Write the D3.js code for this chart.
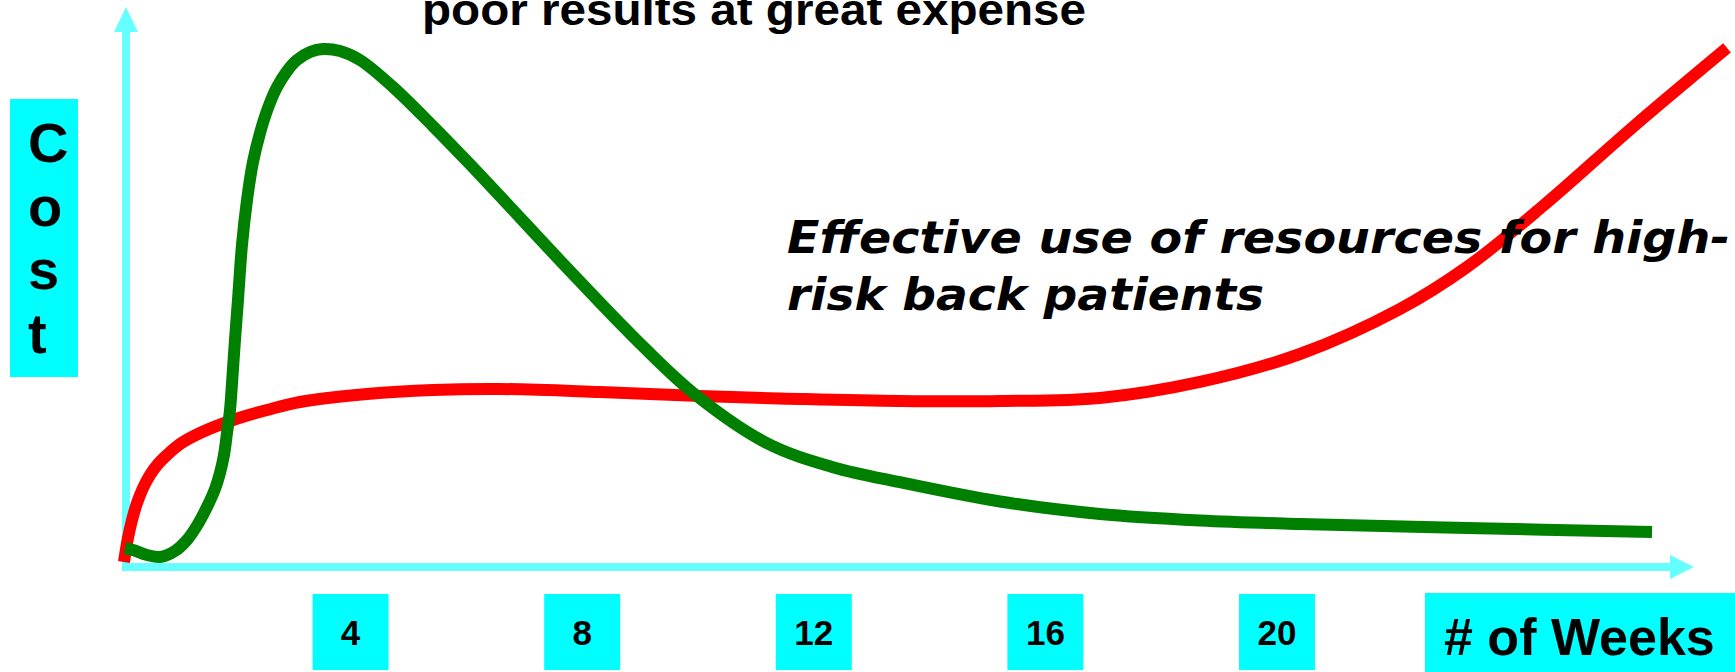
<!DOCTYPE html>
<html>
<head>
<meta charset="utf-8">
<script src="https://cdn.jsdelivr.net/npm/d3@7/dist/d3.min.js"></script>
<style>
  html, body { margin: 0; padding: 0; background: #ffffff; overflow: hidden; }
  svg { display: block; }
</style>
</head>
<body>
<svg id="chart" width="1735" height="672"></svg>
<script>
// ---- data ----
const weekTicks = [4, 8, 12, 16, 20];
const xAxisTitle = "# of Weeks";
const yAxisTitle = ["C", "o", "s", "t"];
const titleText = "poor results at great expense";
const noteLines = ["Effective use of resources for high-", "risk back patients"];

// traditional care (green): week, cost
const greenWeeks = [0.104, 0.242, 0.484, 0.708, 0.967, 1.174, 1.364, 1.520, 1.658, 1.744, 1.813, 1.865, 1.917, 1.952, 2.003, 2.055, 2.124, 2.211, 2.314, 2.435, 2.573, 2.729, 2.902, 3.074, 3.299, 3.523, 3.817, 4.162, 4.732, 5.423, 6.010, 6.580, 7.737, 8.877, 9.914, 11.192, 12.332, 13.489, 15.216, 16.943, 18.670, 20.397, 23.282, 26.477];
const greenCost  = [3.65, 3.27, 2.31, 1.92, 3.08, 5.19, 8.27, 11.54, 15.0, 18.08, 21.54, 25.77, 30.19, 35.38, 43.65, 51.35, 61.92, 70.58, 77.88, 83.46, 88.27, 92.31, 95.38, 97.5, 99.04, 99.62, 99.23, 97.5, 92.31, 84.77, 78.04, 71.31, 57.52, 44.33, 33.48, 23.8, 19.2, 16.3, 12.6, 10.19, 8.94, 8.27, 7.5, 6.73];

// high-risk targeted care (red): week, cost
const redWeeks = [0.086, 0.155, 0.225, 0.311, 0.415, 0.535, 0.674, 0.829, 1.054, 1.399, 1.969, 2.556, 3.126, 4.283, 5.423, 6.580, 8.307, 10.035, 11.762, 13.489, 15.216, 16.943, 18.670, 20.397, 22.124, 23.282, 24.594, 26.149, 27.772];
const redCost  = [0.96, 5.58, 9.04, 12.31, 15.19, 17.69, 19.81, 21.54, 23.65, 25.77, 28.27, 30.19, 31.73, 33.27, 34.04, 34.23, 33.65, 32.88, 32.31, 31.92, 31.92, 32.50, 35.58, 40.96, 49.62, 57.69, 69.42, 84.62, 99.81];

// ---- layout ----
const svg = d3.select("#chart");
const x = d3.scaleLinear().domain([0, 20]).range([119, 1277]);
const y = d3.scaleLinear().domain([0, 100]).range([567, 47]);

const axisColor = "#66FFFF";
const boxColor = "#00FFFF";
const axisX = 126, axisY = 567;

// y axis
svg.append("line").attr("x1", axisX).attr("x2", axisX).attr("y1", axisY + 3).attr("y2", 30)
  .attr("stroke", axisColor).attr("stroke-width", 8);
svg.append("path").attr("d", d3.line()([[axisX - 12, 32], [axisX + 12, 32], [axisX, 7]]) + "Z")
  .attr("fill", axisColor);

// x axis
svg.append("line").attr("x1", axisX - 4).attr("x2", 1672).attr("y1", axisY).attr("y2", axisY)
  .attr("stroke", axisColor).attr("stroke-width", 8);
svg.append("path").attr("d", d3.line()([[1670, axisY - 12], [1670, axisY + 12], [1694, axisY]]) + "Z")
  .attr("fill", axisColor);

// tick label boxes
const ticks = svg.append("g").selectAll("g").data(weekTicks).join("g")
  .attr("transform", d => `translate(${x(d)},0)`);
ticks.append("rect").attr("x", -38).attr("y", 594).attr("width", 76).attr("height", 76).attr("fill", boxColor);
ticks.append("text").attr("x", 0).attr("y", 645).attr("text-anchor", "middle")
  .attr("font-family", "Liberation Sans, Arial, sans-serif").attr("font-weight", "bold")
  .attr("font-size", 35).attr("fill", "#000").text(d => d);

// x axis title box
svg.append("rect").attr("x", 1425).attr("y", 593).attr("width", 310).attr("height", 79).attr("fill", boxColor);
svg.append("text").attr("x", 1444).attr("y", 655)
  .attr("font-family", "Liberation Sans, Arial, sans-serif").attr("font-weight", "bold")
  .attr("font-size", 52).attr("fill", "#000").text(xAxisTitle);

// y axis title box
svg.append("rect").attr("x", 10).attr("y", 99).attr("width", 68).attr("height", 278).attr("fill", boxColor);
svg.append("g").selectAll("text").data(yAxisTitle).join("text")
  .attr("x", 28).attr("y", (d, i) => 162 + i * 63.7)
  .attr("font-family", "Liberation Sans, Arial, sans-serif").attr("font-weight", "bold")
  .attr("font-size", 56).attr("fill", "#000").text(d => d);

// curves
const line = d3.line().x(d => x(d[0])).y(d => y(d[1])).curve(d3.curveCatmullRom.alpha(0.5));
const redData = redWeeks.map((w, i) => [w, redCost[i]]);
const greenData = greenWeeks.map((w, i) => [w, greenCost[i]]);

svg.append("path").datum(redData).attr("d", line)
  .attr("fill", "none").attr("stroke", "#FF0000").attr("stroke-width", 12);
svg.append("path").datum(greenData).attr("d", line)
  .attr("fill", "none").attr("stroke", "#008000").attr("stroke-width", 12);

// title (its upper line lies above the picture in the original)
svg.append("text").attr("x", 422).attr("y", 25)
  .attr("font-family", "Liberation Sans, Arial, sans-serif").attr("font-weight", "bold")
  .attr("font-size", 44).attr("fill", "#000")
  .attr("textLength", 664).attr("lengthAdjust", "spacingAndGlyphs")
  .text(titleText);

// annotation
const noteWidths = [943, 477];
svg.append("g").selectAll("text").data(noteLines).join("text")
  .attr("x", 787).attr("y", (d, i) => 253 + i * 57)
  .attr("font-family", "DejaVu Sans, Verdana, sans-serif").attr("font-weight", "bold")
  .attr("font-style", "italic").attr("font-size", 45).attr("fill", "#000")
  .attr("textLength", (d, i) => noteWidths[i]).attr("lengthAdjust", "spacingAndGlyphs")
  .text(d => d);
</script>
</body>
</html>
